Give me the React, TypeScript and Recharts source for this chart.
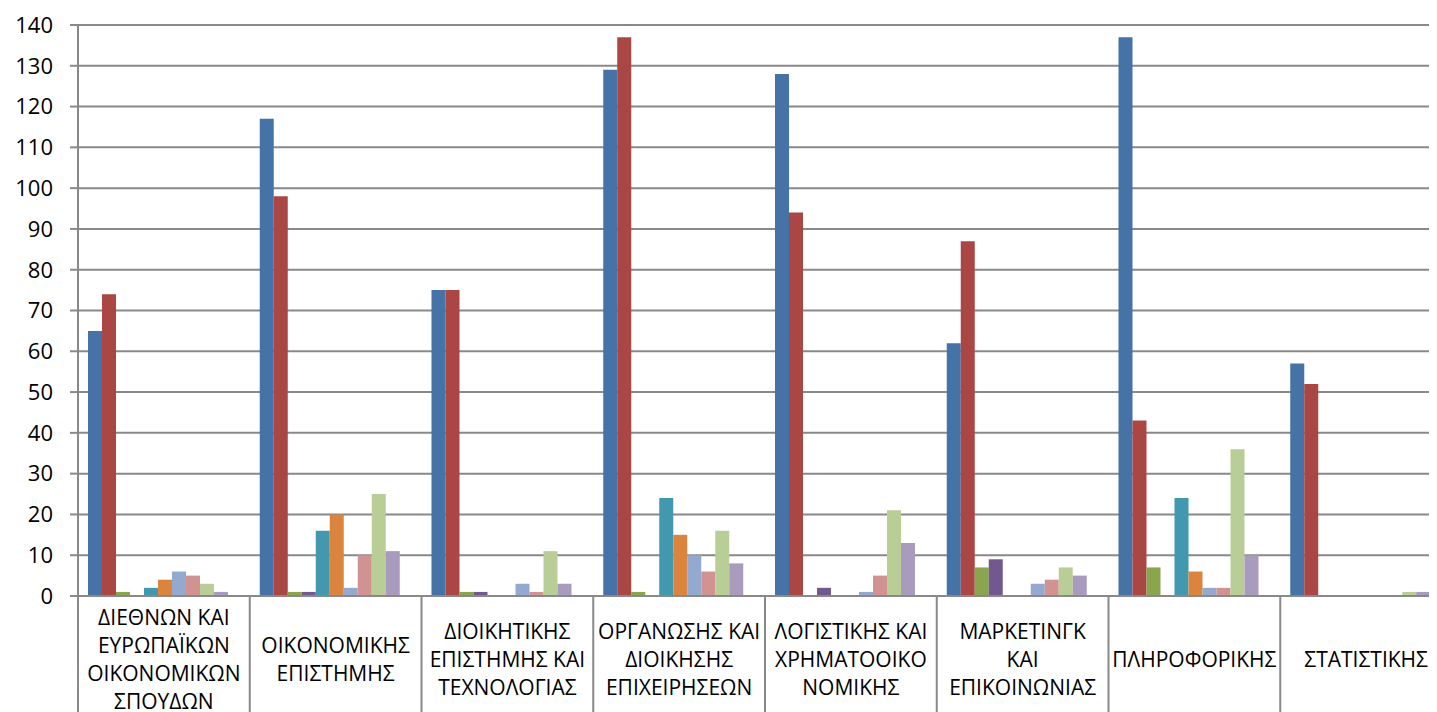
import React from "react";
import { BarChart, Bar, XAxis, YAxis, CartesianGrid } from "recharts";

const categories = [
  "ΔΙΕΘΝΩΝ ΚΑΙ\nΕΥΡΩΠΑΪΚΩΝ\nΟΙΚΟΝΟΜΙΚΩΝ\nΣΠΟΥΔΩΝ",
  "ΟΙΚΟΝΟΜΙΚΗΣ\nΕΠΙΣΤΗΜΗΣ",
  "ΔΙΟΙΚΗΤΙΚΗΣ\nΕΠΙΣΤΗΜΗΣ ΚΑΙ\nΤΕΧΝΟΛΟΓΙΑΣ",
  "ΟΡΓΑΝΩΣΗΣ ΚΑΙ\nΔΙΟΙΚΗΣΗΣ\nΕΠΙΧΕΙΡΗΣΕΩΝ",
  "ΛΟΓΙΣΤΙΚΗΣ ΚΑΙ\nΧΡΗΜΑΤΟΟΙΚΟ\nΝΟΜΙΚΗΣ",
  "ΜΑΡΚΕΤΙΝΓΚ\nΚΑΙ\nΕΠΙΚΟΙΝΩΝΙΑΣ",
  "ΠΛΗΡΟΦΟΡΙΚΗΣ",
  "ΣΤΑΤΙΣΤΙΚΗΣ",
];

const s1 = [65, 117, 75, 129, 128, 62, 137, 57];
const s2 = [74, 98, 75, 137, 94, 87, 43, 52];
const s3 = [1, 1, 1, 1, 0, 7, 7, 0];
const s4 = [0, 1, 1, 0, 2, 9, 0, 0];
const s5 = [2, 16, 0, 24, 0, 0, 24, 0];
const s6 = [4, 20, 0, 15, 0, 0, 6, 0];
const s7 = [6, 2, 3, 10, 1, 3, 2, 0];
const s8 = [5, 10, 1, 6, 5, 4, 2, 0];
const s9 = [3, 25, 11, 16, 21, 7, 36, 1];
const s10 = [1, 11, 3, 8, 13, 5, 10, 1];
const s11 = [null, null, null, null, null, null, null, null];

const seriesValues = [s1, s2, s3, s4, s5, s6, s7, s8, s9, s10, s11];
const seriesColors = [
  "#4572A7", "#AA4643", "#89A54E", "#71588F", "#4198AF",
  "#DB843D", "#93A9CF", "#D19392", "#B9CD96", "#A99BBD", "#FFFFFF",
];
const yTicks = [0, 10, 20, 30, 40, 50, 60, 70, 80, 90, 100, 110, 120, 130, 140];

const data = categories.map((name, i) => {
  const row: Record<string, any> = { name };
  seriesValues.forEach((s, k) => {
    row["s" + (k + 1)] = s[i];
  });
  return row;
});

const CHART_W = 1450;
const CHART_H = 718;
const MARGIN = { top: 17, right: 6, bottom: 0, left: 0 };
const Y_W = 70;
const X_H = 130;
const BAND = (CHART_W - MARGIN.left - MARGIN.right - Y_W) / categories.length;
const GRAY = "#898989";
const FONT = "'Open Sans', sans-serif";

const XTick = (props: any) => {
  const { x, y, payload } = props;
  const lines = String(payload.value).split("\n");
  const n = lines.length;
  const lh = 28;
  return (
    <g>
      <line x1={x - BAND / 2} x2={x - BAND / 2} y1={y} y2={y + 150} stroke={GRAY} strokeWidth={2} />
      <text textAnchor="middle" fontFamily={FONT} fontSize={21} fill="#000">
        {lines.map((l, i) => (
          <tspan key={i} x={x} y={y + 63 + (i - (n - 1) / 2) * lh + 7.5}>
            {l}
          </tspan>
        ))}
      </text>
    </g>
  );
};

export default function App() {
  return (
    <div style={{ width: 1429, height: 704, overflow: "hidden" }}>
      <BarChart
        width={CHART_W}
        height={CHART_H}
        data={data}
        margin={MARGIN}
        barCategoryGap={10}
        barGap={0}
      >
        <CartesianGrid vertical={false} stroke={GRAY} strokeWidth={2} />
        <XAxis
          dataKey="name"
          height={X_H}
          interval={0}
          tickSize={0}
          tickMargin={0}
          tickLine={false}
          axisLine={{ stroke: GRAY, strokeWidth: 2 }}
          tick={<XTick />}
        />
        <YAxis
          width={Y_W}
          domain={[0, 140]}
          ticks={yTicks}
          interval={0}
          tickSize={8}
          tickMargin={17}
          tickLine={{ stroke: GRAY, strokeWidth: 2 }}
          axisLine={{ stroke: GRAY, strokeWidth: 2 }}
          tick={{ fill: "#000", fontSize: 22, fontFamily: FONT }}
        />
        {seriesValues.map((_, k) => (
          <Bar
            key={k}
            dataKey={"s" + (k + 1)}
            fill={seriesColors[k]}
            isAnimationActive={false}
          />
        ))}
      </BarChart>
    </div>
  );
}
